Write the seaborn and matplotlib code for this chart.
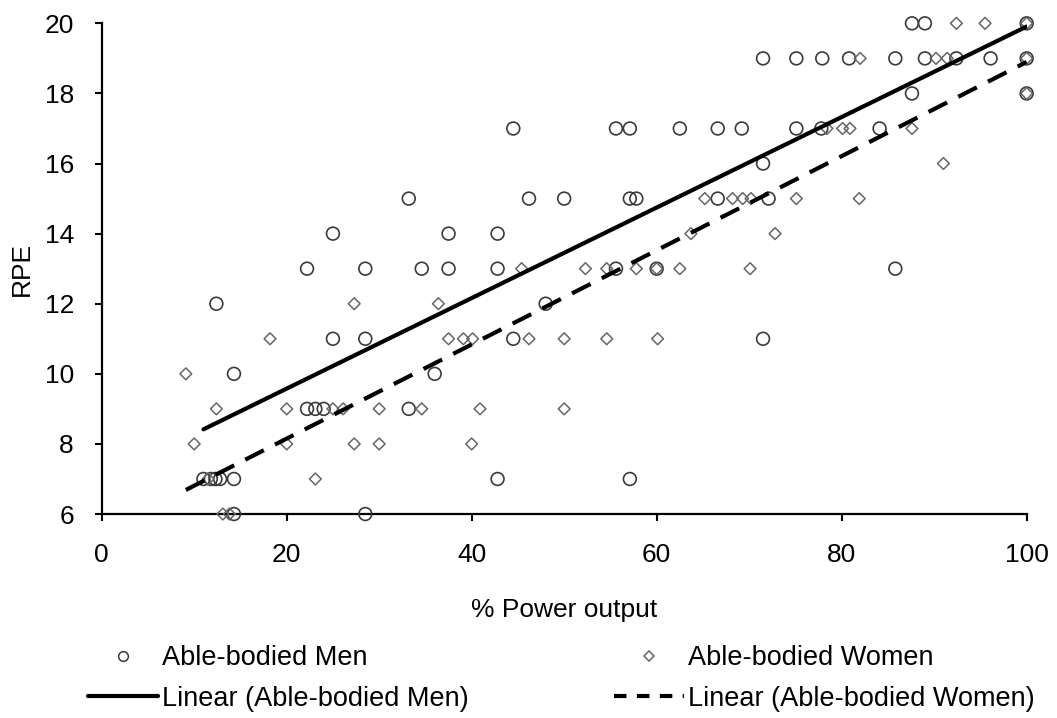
import matplotlib
matplotlib.use("Agg")
import matplotlib.pyplot as plt
import seaborn as sns
from matplotlib.lines import Line2D

# -----------------------------
# DATA
# -----------------------------
men_pct = [87.6, 89.0, 100,
           71.5, 75.1, 77.9, 80.8, 85.8, 89.0, 92.4, 96.1, 100,
           87.6, 100,
           44.5, 55.6, 57.1, 62.5, 66.6, 69.2, 75.1, 77.8, 84.1,
           71.5,
           33.2, 46.2, 50.0, 57.1, 57.8, 66.6, 72.1,
           25.0, 37.5, 42.8,
           22.2, 28.5, 34.6, 37.5, 42.8, 55.6, 60.0, 85.8,
           12.4, 48.0,
           25.0, 28.5, 44.5, 71.5,
           14.3, 36.0,
           22.2, 23.1, 24.0, 33.2,
           11.0, 11.8, 12.3, 12.8, 14.3, 42.8, 57.1,
           14.3, 28.5]
men_rpe = [20, 20, 20,
           19, 19, 19, 19, 19, 19, 19, 19, 19,
           18, 18,
           17, 17, 17, 17, 17, 17, 17, 17, 17,
           16,
           15, 15, 15, 15, 15, 15, 15,
           14, 14, 14,
           13, 13, 13, 13, 13, 13, 13, 13,
           12, 12,
           11, 11, 11, 11,
           10, 10,
           9, 9, 9, 9,
           7, 7, 7, 7, 7, 7, 7,
           6, 6]

women_pct = [92.4, 95.5, 100,
             82.0, 90.2, 91.4, 100,
             100,
             78.4, 80.1, 80.9, 87.6,
             91.0,
             65.2, 68.2, 69.3, 70.2, 75.1, 81.9,
             63.7, 72.8,
             45.4, 52.3, 54.6, 57.8, 60.0, 62.5, 70.1,
             27.3, 36.4,
             18.2, 37.5, 39.1, 40.1, 46.2, 50.0, 54.6, 60.1,
             9.1,
             12.4, 20.0, 25.0, 26.1, 30.0, 34.6, 40.9, 50.0,
             10.0, 20.0, 27.3, 30.0, 40.0,
             11.5, 23.1,
             13.1, 13.8]
women_rpe = [20, 20, 20,
             19, 19, 19, 19,
             18,
             17, 17, 17, 17,
             16,
             15, 15, 15, 15, 15, 15,
             14, 14,
             13, 13, 13, 13, 13, 13, 13,
             12, 12,
             11, 11, 11, 11, 11, 11, 11, 11,
             10,
             9, 9, 9, 9, 9, 9, 9, 9,
             8, 8, 8, 8, 8,
             7, 7,
             6, 6]

x_ticks = [0, 20, 40, 60, 80, 100]
y_ticks = [6, 8, 10, 12, 14, 16, 18, 20]

# -----------------------------
# STYLE
# -----------------------------
sns.set_style("ticks")
plt.rcParams["font.family"] = ["Liberation Sans", "DejaVu Sans"]
plt.rcParams["text.color"] = "black"
plt.rcParams["axes.labelcolor"] = "black"
plt.rcParams["xtick.color"] = "black"
plt.rcParams["ytick.color"] = "black"

fig = plt.figure(figsize=(10.57, 7.18), dpi=100)
ax = fig.add_axes([0.0962, 0.2841, 0.8751, 0.6834])

men_col = "#3a3a3a"
women_col = "#666666"

# scatter points
sns.scatterplot(x=men_pct, y=men_rpe, ax=ax, marker="o", s=85,
                facecolor="none", edgecolor=men_col, linewidth=1.2,
                clip_on=False, zorder=3)
sns.scatterplot(x=women_pct, y=women_rpe, ax=ax, marker="D", s=36,
                facecolor="none", edgecolor=women_col, linewidth=1.1,
                clip_on=False, zorder=3)

# linear trendlines
sns.regplot(x=men_pct, y=men_rpe, ax=ax, scatter=False, ci=None,
            truncate=True, line_kws=dict(color="black", lw=3, zorder=4))
sns.regplot(x=women_pct, y=women_rpe, ax=ax, scatter=False, ci=None,
            truncate=True,
            line_kws=dict(color="black", lw=3, dashes=(5, 3), zorder=4))

ax.set_xlim(0, 100)
ax.set_ylim(6, 20)
ax.set_xticks(x_ticks)
ax.set_yticks(y_ticks)

for side in ["top", "right"]:
    ax.spines[side].set_visible(False)
for side in ["left", "bottom"]:
    ax.spines[side].set_linewidth(1.6)
    ax.spines[side].set_color("black")

ax.tick_params(axis="both", direction="out", length=5, width=1.5,
               color="black", labelcolor="black", labelsize=19)
ax.tick_params(axis="x", pad=16)
ax.tick_params(axis="y", pad=15)

ax.set_xlabel("% Power output", fontsize=19, labelpad=22)
ax.set_ylabel("RPE", fontsize=19, labelpad=8)

# -----------------------------
# LEGEND (two columns below)
# -----------------------------
h_men = Line2D([], [], ls="none", marker="o", markersize=7,
               markerfacecolor="none", markeredgecolor=men_col, mew=1.1)
h_women = Line2D([], [], ls="none", marker="D", markersize=5,
                 markerfacecolor="none", markeredgecolor=women_col, mew=1.1)
h_lin_men = Line2D([], [], color="black", lw=3)
h_lin_women = Line2D([], [], color="black", lw=3, dashes=(3, 2.5))

leg_kw = dict(loc="upper left", frameon=False, fontsize=19.5,
              handlelength=2.6, handletextpad=0.15, labelspacing=0.55,
              borderpad=0, borderaxespad=0)
fig.legend([h_men, h_lin_men],
           ["Able-bodied Men", "Linear (Able-bodied Men)"],
           bbox_to_anchor=(88 / 1057, 1 - 645 / 718), **leg_kw)
fig.legend([h_women, h_lin_women],
           ["Able-bodied Women", "Linear (Able-bodied Women)"],
           bbox_to_anchor=(614 / 1057, 1 - 645 / 718), **leg_kw)

plt.savefig("out.png", dpi=100)
plt.close()
